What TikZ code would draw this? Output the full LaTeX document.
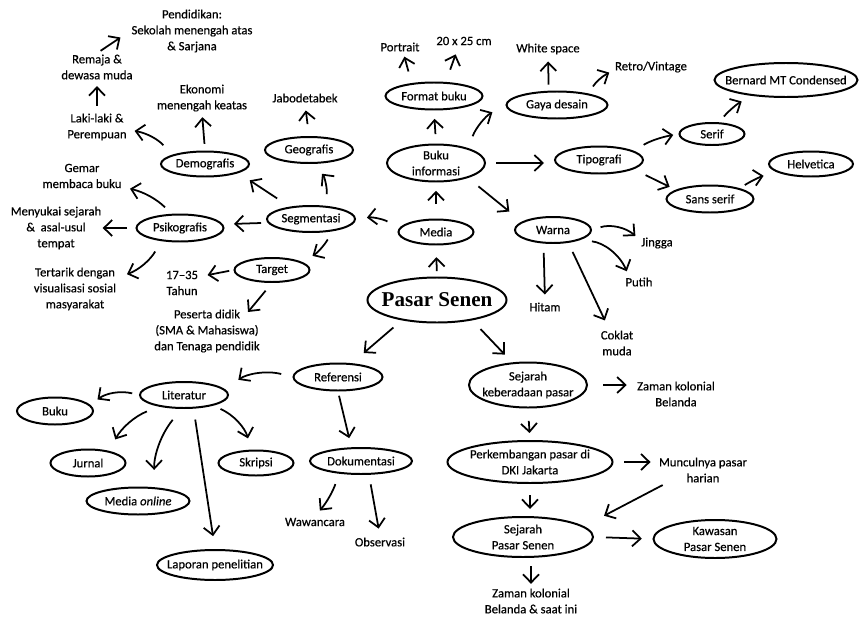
\documentclass[tikz,border=0pt]{standalone}
\usepackage{fontspec}
\setmainfont{Carlito}[FakeBold=0.5]
\newfontfamily\titlefont{Liberation Serif}
\usetikzlibrary{shapes,arrows.meta,positioning}

\begin{document}
\begin{tikzpicture}[x=0.03cm,y=-0.03cm,
  font=\fontsize{10.8}{13.6}\selectfont,
  ell/.style 2 args={ellipse,draw,line width=1.7pt,inner sep=0pt,minimum width=#1cm,minimum height=#2cm},
  txt/.style={align=center,inner sep=1pt},
  arr/.style={line width=1.5pt,-{Straight Barb[length=2.5mm,width=4.8mm]}},
  every label/.append style={align=center}]
  \useasboundingbox (0,0) rectangle (859,617);

  \node[ell={4.17}{1.35},label={[font=\titlefont\bfseries\fontsize{18}{20}\selectfont]center:Pasar Senen}] (ps) at (437,300) {};
  \node[ell={2.25}{0.75},label=center:Media] (media) at (436,232) {};
  \node[ell={2.64}{0.78},label=center:Segmentasi] (seg) at (311,219) {};
  \node[ell={2.25}{0.72},label=center:Target] (target) at (272,270) {};
  \node[ell={2.61}{0.81},label=center:Psikografis] (psiko) at (180,228) {};
  \node[ell={2.64}{0.75},label=center:Demografis] (demo) at (205,164) {};
  \node[ell={2.64}{0.78},label=center:Geografis] (geo) at (309,150) {};
  \node[ell={2.94}{1.11},label=center:{Buku\\informasi}] (buku) at (436,163) {};
  \node[ell={2.91}{0.81},label=center:Format buku] (format) at (434,96) {};
  \node[ell={3.03}{0.81},label=center:Gaya desain] (gaya) at (557,105) {};
  \node[ell={2.64}{0.81},label=center:Tipografi] (tipo) at (599,160) {};
  \node[ell={1.95}{0.66},label=center:Serif] (serif) at (712,134) {};
  \node[ell={4.29}{1.02},label=center:Bernard MT Condensed] (bernard) at (786,80) {};
  \node[ell={2.61}{0.81},label=center:Sans serif] (sans) at (710,199) {};
  \node[ell={2.52}{0.75},label=center:Helvetica] (helv) at (811,164) {};
  \node[ell={2.28}{0.78},label=center:Warna] (warna) at (553,230) {};
  \node[ell={2.67}{0.81},label=center:Referensi] (ref) at (338,377) {};
  \node[ell={2.64}{0.78},label=center:Literatur] (lit) at (184,395) {};
  \node[ell={2.28}{0.81},label=center:Buku] (bukulit) at (55,411) {};
  \node[ell={2.25}{0.81},label=center:Jurnal] (jurnal) at (88,463) {};
  \node[ell={3.09}{0.81},label=center:{Media \textit{online}}] (medon) at (138,501) {};
  \node[ell={3.48}{0.9},label=center:Laporan penelitian] (lapor) at (215,565) {};
  \node[ell={2.25}{0.75},label=center:Skripsi] (skripsi) at (256,463) {};
  \node[ell={3.06}{0.78},label=center:Dokumentasi] (doku) at (361,461) {};
  \node[ell={3.54}{1.35},label=center:{Sejarah\\keberadaan pasar}] (sejk) at (528,385) {};
  \node[ell={4.95}{1.26},label=center:{Perkembangan pasar di\\DKI Jakarta}] (perk) at (530,462) {};
  \node[ell={4.2}{1.2},label=center:{Sejarah\\Pasar Senen}] (sejps) at (523,537) {};
  \node[ell={3.69}{1.14},label=center:{Kawasan\\Pasar Senen}] (kawasan) at (715,539) {};

  \node[txt] (jabo) at (305,98) {Jabodetabek};
  \node[txt] (ekon) at (202,98) {Ekonomi\\menengah keatas};
  \node[txt] (laki) at (97,127) {Laki-laki \&\\Perempuan};
  \node[txt] (remaja) at (97,67) {Remaja \&\\dewasa muda};
  \node[txt] (pend) at (192,31) {Pendidikan:\\Sekolah menengah atas\\\& Sarjana};
  \node[txt] (gemar) at (82,176) {Gemar\\membaca buku};
  \node[txt] (suka) at (56,228) {Menyukai sejarah\\\& \ asal-usul\\tempat};
  \node[txt] (tarik) at (75,289) {Tertarik dengan\\visualisasi sosial\\masyarakat};
  \node[txt] (usia) at (182,283) {17--35\\Tahun};
  \node[txt] (didik) at (207,331) {Peserta didik\\(SMA \& Mahasiswa)\\dan Tenaga pendidik};
  \node[txt] (portrait) at (400,47) {Portrait};
  \node[txt] (ukuran) at (464,41) {20 x 25 cm};
  \node[txt] (white) at (548,49) {White space};
  \node[txt] (retro) at (651,67) {Retro/Vintage};
  \node[txt] (jingga) at (657,243) {Jingga};
  \node[txt] (putih) at (639,282) {Putih};
  \node[txt] (coklat) at (617,343) {Coklat\\muda};
  \node[txt] (hitam) at (545,307) {Hitam};
  \node[txt] (wawan) at (315,522) {Wawancara};
  \node[txt] (obs) at (380,542) {Observasi};
  \node[txt] (kolonial) at (676,394) {Zaman kolonial\\Belanda};
  \node[txt] (muncul) at (703,470) {Munculnya pasar\\harian};
  \node[txt] (kini) at (531,601) {Zaman kolonial\\Belanda \& saat ini};

  \draw[arr,shorten <=1.6mm,shorten >=3.5mm] (ps.north) -- (media.south);
  \draw[arr,shorten <=4.3mm,shorten >=2.5mm] (media.north) -- (buku.south);
  \draw[arr,shorten <=2.8mm,shorten >=2.5mm] (buku.north) -- (format.south);
  \draw[arr,shorten <=3.6mm,shorten >=1.2mm] (format.150) -- (portrait.-60);
  \draw[arr,shorten <=3.9mm,shorten >=2.5mm] (format.50) -- (ukuran.-135);
  \draw[arr,shorten <=3.8mm,shorten >=4.5mm] (buku.25) to[bend left=20] (gaya.west);
  \draw[arr,shorten <=1.8mm,shorten >=1.7mm] (gaya.120) -- (white.south);
  \draw[arr,shorten <=2.5mm,shorten >=1.5mm] (gaya.20) to[bend left=15] (retro.185);
  \draw[arr,shorten <=3mm,shorten >=3mm] (buku.east) -- (tipo.west|-buku.east);
  \draw[arr,shorten <=3.5mm,shorten >=1.6mm] (tipo.15) to[bend left=10] (serif.west);
  \draw[arr,shorten <=2.3mm,shorten >=3.5mm] (serif.60) to[bend left=10] (bernard.205);
  \draw[arr,shorten <=4mm,shorten >=2mm] (tipo.-15) -- (sans.165);
  \draw[arr,shorten <=1.8mm,shorten >=4.5mm] (sans.20) to[bend left=10] (helv.195);
  \draw[arr,shorten <=4mm,shorten >=4.8mm] (buku.-25) -- (warna.165);
  \draw[arr,shorten <=2.7mm,shorten >=1.8mm] (warna.east) to[bend left=30] (jingga.170);
  \draw[arr,shorten <=3.5mm,shorten >=1.6mm] (warna.-20) to[bend left=30] (putih.150);
  \draw[arr,shorten <=3mm,shorten >=2.9mm] (warna.-40) -- (coklat.120);
  \draw[arr,shorten <=2.8mm,shorten >=2mm] (warna.-125) -- (hitam.north);

  \draw[arr,shorten <=4mm,shorten >=3.3mm] (media.175) to[bend right=20] (seg.east);
  \draw[arr,shorten <=3.5mm,shorten >=3.8mm] (seg.45) to[bend right=25] (geo.-70);
  \draw[arr,shorten <=4.5mm,shorten >=4mm] (seg.150) -- (demo.-15);
  \draw[arr,shorten <=2mm,shorten >=3.3mm] (seg.185) -- (psiko.5);
  \draw[arr,shorten <=2.8mm,shorten >=3.6mm] (seg.-30) to[bend left=15] (target.15);
  \draw[arr,shorten <=1.3mm,shorten >=2.5mm] (target.west) -- (usia.20);
  \draw[arr,shorten <=3mm] (target.south) -- ([shift={(41,-19)}]didik.center);
  \draw[arr,shorten <=2.8mm,shorten >=2.2mm] (psiko.120) to[bend right=15] (gemar.-15);
  \draw[arr,shorten <=2.5mm] (psiko.west) -- (suka.east|-psiko.west);
  \draw[arr,shorten <=3.6mm,shorten >=3mm] (psiko.-145) to[bend left=20] (tarik.15);
  \draw[arr,shorten <=3.8mm,shorten >=2mm] (demo.165) to[bend right=20] (laki.-5);
  \draw[arr,shorten <=2mm,shorten >=1.3mm] (demo.north) -- (ekon.south);
  \draw[arr,shorten <=2mm,shorten >=1.6mm] (laki.north) -- (remaja.south);
  \draw[arr,shorten <=1.3mm,shorten >=3.5mm] (remaja.north) -- (pend.west);
  \draw[arr,shorten <=3.6mm,shorten >=2mm] (geo.north) -- (jabo.south);

  \draw[arr,shorten <=3.3mm,shorten >=4.7mm] (ps.-150) -- (ref.45);
  \draw[arr,shorten <=3.6mm,shorten >=3.2mm] (ps.-30) -- (sejk.125);
  \draw[arr,shorten <=3.5mm,shorten >=4.9mm] (ref.west) to[bend right=25] (lit.8);
  \draw[arr,shorten <=2.1mm,shorten >=2.7mm] (lit.west) to[bend right=25] (bukulit.10);
  \draw[arr,shorten <=3.9mm,shorten >=3.9mm] (lit.-155) to[bend right=20] (jurnal.30);
  \draw[arr,shorten <=4.2mm,shorten >=5.2mm] (lit.-100) to[bend right=20] (medon.40);
  \draw[arr,shorten <=3.3mm,shorten >=3.9mm] (lit.-55) -- (lapor.north);
  \draw[arr,shorten <=2.4mm,shorten >=3.5mm] (lit.-20) to[bend left=25] (skripsi.110);
  \draw[arr,shorten <=1.3mm,shorten >=2.8mm] (ref.south) -- (doku.125);
  \draw[arr,shorten <=3.3mm,shorten >=2.3mm] (doku.-150) to[bend left=10] (wawan.north);
  \draw[arr,shorten <=2.9mm,shorten >=2.3mm] (doku.-60) -- (obs.north);
  \draw[arr,shorten <=4.5mm,shorten >=2.7mm] (sejk.east) -- (kolonial.west|-sejk.east);
  \draw[arr,shorten <=3.7mm,shorten >=2.1mm] (sejk.south) -- (perk.north);
  \draw[arr,shorten <=3.2mm,shorten >=2.1mm] (perk.east) -- (muncul.west|-perk.east);
  \draw[arr,shorten <=0.8mm,shorten >=6.8mm] (muncul.-160) -- (sejps.10);
  \draw[arr,shorten <=3.3mm,shorten >=2.1mm] (perk.south) -- (sejps.north-|perk.south);
  \draw[arr,shorten <=3.6mm,shorten >=3.2mm] (sejps.east) -- (kawasan.west);
  \draw[arr,shorten <=2.5mm,shorten >=1mm] (sejps.south-|kini.north) -- (kini.north);
\end{tikzpicture}
\end{document}
